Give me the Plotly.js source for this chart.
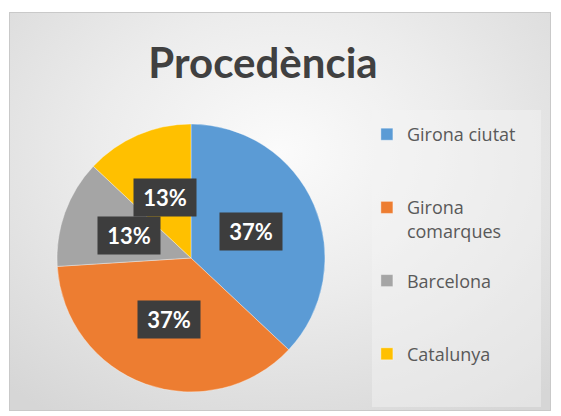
<!DOCTYPE html>
<html>
<head>
<meta charset="utf-8">
<script src="https://cdn.plot.ly/plotly-3.0.1.min.js"></script>
<style>
  html, body { margin: 0; padding: 0; background: #ffffff; }
  #wrap { position: relative; width: 561px; height: 416px; overflow: hidden; }
  #bg { position: absolute; left: 9px; top: 12px; width: 540px; height: 397px;
        border: 1px solid #c9c9c9;
        background: radial-gradient(ellipse 75% 80% at 50% 35%, #fbfbfb 0%, #ececec 45%, #d6d6d6 100%); }
  #chart { position: absolute; left: 0; top: 0; width: 561px; height: 416px; }
</style>
</head>
<body>
<div id="wrap"><div id="bg"></div><div id="chart"></div></div>
<script>
const categories = ['Girona ciutat', 'Girona comarques', 'Barcelona', 'Catalunya'];
const values = [37, 37, 13, 13];
const percentLabels = ['37%', '37%', '13%', '13%'];
const colors = ['#5b9bd5', '#ed7d31', '#a5a5a5', '#ffc000'];
const titleText = 'Procedència';

const W = 561, H = 416;
const domX = [0.1016, 0.5793], domY = [0.0577, 0.7019];

// legend display text (line breaks only for spacing like the original legend)
const legendText = categories.map((c, i) => {
  if (c === 'Girona comarques') return 'Girona<br>comarques<br> ';
  return i === categories.length - 1 ? c : c + '<br> <br> ';
});

// label annotations placed at mid-angle of each slice, half radius
const total = values.reduce((a, b) => a + b, 0);
const cx = (domX[0] + domX[1]) / 2, cy = (domY[0] + domY[1]) / 2;
const R = Math.min((domX[1] - domX[0]) * W, (domY[1] - domY[0]) * H) / 2;
let cum = 0;
const annotations = values.map((v, i) => {
  const mid = 2 * Math.PI * (cum + v / 2) / total;
  cum += v;
  const r = 0.49 * R;
  return {
    xref: 'paper', yref: 'paper',
    x: cx + r * Math.sin(mid) / W,
    y: cy + r * Math.cos(mid) / H,
    text: percentLabels[i], showarrow: false,
    font: { family: 'Lato, sans-serif', size: 22, color: '#ffffff', weight: 'bold' },
    bgcolor: '#3d3d3d', borderpad: 2, width: 58, height: 33,
    xanchor: 'center', yanchor: 'middle'
  };
});

const trace = {
  type: 'pie',
  labels: legendText,
  values: values,
  sort: false,
  direction: 'clockwise',
  rotation: 0,
  marker: { colors: colors, line: { color: 'rgba(255,255,255,0.35)', width: 1 } },
  textinfo: 'none',
  hoverinfo: 'skip',
  domain: { x: domX, y: domY }
};

const layout = {
  width: W, height: H,
  margin: { l: 0, r: 0, t: 0, b: 0 },
  paper_bgcolor: 'rgba(0,0,0,0)',
  plot_bgcolor: 'rgba(0,0,0,0)',
  title: {
    text: titleText, x: 263 / W, xanchor: 'center', xref: 'paper',
    y: 1 - 63 / H, yanchor: 'middle', yref: 'paper',
    font: { family: 'Lato, sans-serif', size: 42, color: '#404040', weight: 'bold' }
  },
  showlegend: true,
  legend: {
    x: 0.654, xanchor: 'left', y: 1 - 116 / H, yanchor: 'top',
    bgcolor: 'rgba(0,0,0,0)', valign: 'top', traceorder: 'normal',
    font: { family: 'Open Sans, sans-serif', size: 18, color: '#595959' }
  },
  shapes: [{
    type: 'rect', xref: 'paper', yref: 'paper',
    x0: 372 / W, x1: 541 / W, y0: 1 - 407 / H, y1: 1 - 110 / H,
    fillcolor: 'rgba(245,245,245,0.45)', line: { width: 0 }, layer: 'below'
  }],
  annotations: annotations
};

Plotly.newPlot('chart', [trace], layout, { displayModeBar: false, staticPlot: true });
</script>
</body>
</html>
